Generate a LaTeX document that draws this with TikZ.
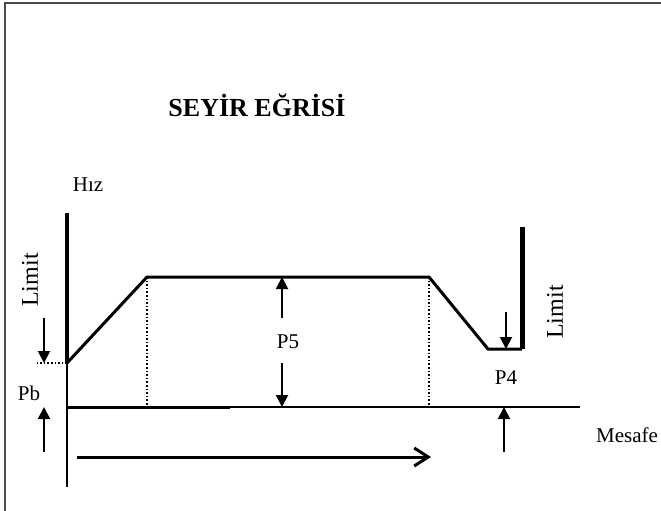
\documentclass[tikz,border=0pt]{standalone}
\usepackage{fontspec}
\setmainfont{Liberation Serif}
\usetikzlibrary{arrows.meta}
\tikzset{
  curve/.style={line width=3pt, line join=miter},
  dimarrow/.style={line width=2pt, -{Triangle[width=12pt,length=12pt]}},
  guide/.style={dotted, line width=1.6pt},
  lbl/.style={font=\fontsize{21}{25}\selectfont, inner sep=0pt},
  biglbl/.style={font=\fontsize{24}{28}\selectfont, inner sep=0pt, rotate=90},
}

\begin{document}
\begin{tikzpicture}[x=1pt,y=-1pt]
  \useasboundingbox (0,0) rectangle (661,511);
  % frame
  \draw[black!70, line width=1.6pt] (5,511) -- (5,3) -- (661,3);

  % labels
  \node[font=\fontsize{26}{30}\selectfont\bfseries, inner sep=0pt] (title) at (257,105) {SEYİR EĞRİSİ};
  \node[lbl] (hiz) at (88,185) {Hız};
  \node[biglbl] (limitL) at (30,280) {Limit};
  \node[biglbl] (limitR) at (555,312) {Limit};
  \node[lbl] (pb) at (29,393) {Pb};
  \node[lbl] (p5) at (288,342) {P5};
  \node[lbl] (p4) at (506,378) {P4};
  \node[lbl] (mesafe) at (627,435) {Mesafe};

  % key points of the curve
  \coordinate (o) at (67,407);
  \coordinate (ytop) at (67,213);
  \coordinate (ybot) at (67,487);
  \coordinate (start) at (67,363);
  \coordinate (accend) at (147,277);
  \coordinate (decstart) at (429,277);
  \coordinate (decend) at (488,349);
  \coordinate (stop) at (522,349);
  \coordinate (wall) at (522,227);
  \coordinate (xthick) at (230,407);
  \coordinate (xend) at (580,407);
  \coordinate (tick) at (35,363);

  % axes
  \draw[line width=2pt] (start) -- (ybot);
  \draw[line width=4pt] (ytop) -- (start);
  \draw[line width=1.6pt] (o) -- (xend);
  \draw[line width=3pt] (o) -- (xthick);

  % speed curve
  \draw[curve] (start) -- (accend) -- (decstart) -- (decend) -- (stop);
  \draw[line width=5pt] (stop) -- (wall);
  \draw[guide] (accend) -- (accend |- o);
  \draw[guide] (decstart) -- (decstart |- o);
  \draw[guide] (start) -- (tick);

  % dimension arrows
  \coordinate (limtail) at (44,318);
  \coordinate (limhead) at (44,363);
  \coordinate (pbtail) at (44,452);
  \coordinate (pbhead) at (44,407);
  \coordinate (p5up) at (282,318);
  \coordinate (p5top) at (282,277);
  \coordinate (p5dn) at (282,363);
  \coordinate (p5bot) at (282,407);
  \coordinate (p4tail) at (506,312);
  \coordinate (p4head) at (506,349);
  \coordinate (rtail) at (504,452);
  \coordinate (rhead) at (504,407);
  \draw[dimarrow] (limtail) -- (limhead);
  \draw[dimarrow] (pbtail) -- (pbhead);
  \draw[dimarrow] (p5up) -- (p5top);
  \draw[dimarrow] (p5dn) -- (p5bot);
  \draw[dimarrow] (p4tail) -- (p4head);
  \draw[dimarrow] (rtail) -- (rhead);

  % direction of travel
  \coordinate (dirstart) at (77,457);
  \coordinate (dirend) at (431,457);
  \draw[line width=3pt, -{Straight Barb[length=14pt,width=18pt]}] (dirstart) -- (dirend);
\end{tikzpicture}
\end{document}
